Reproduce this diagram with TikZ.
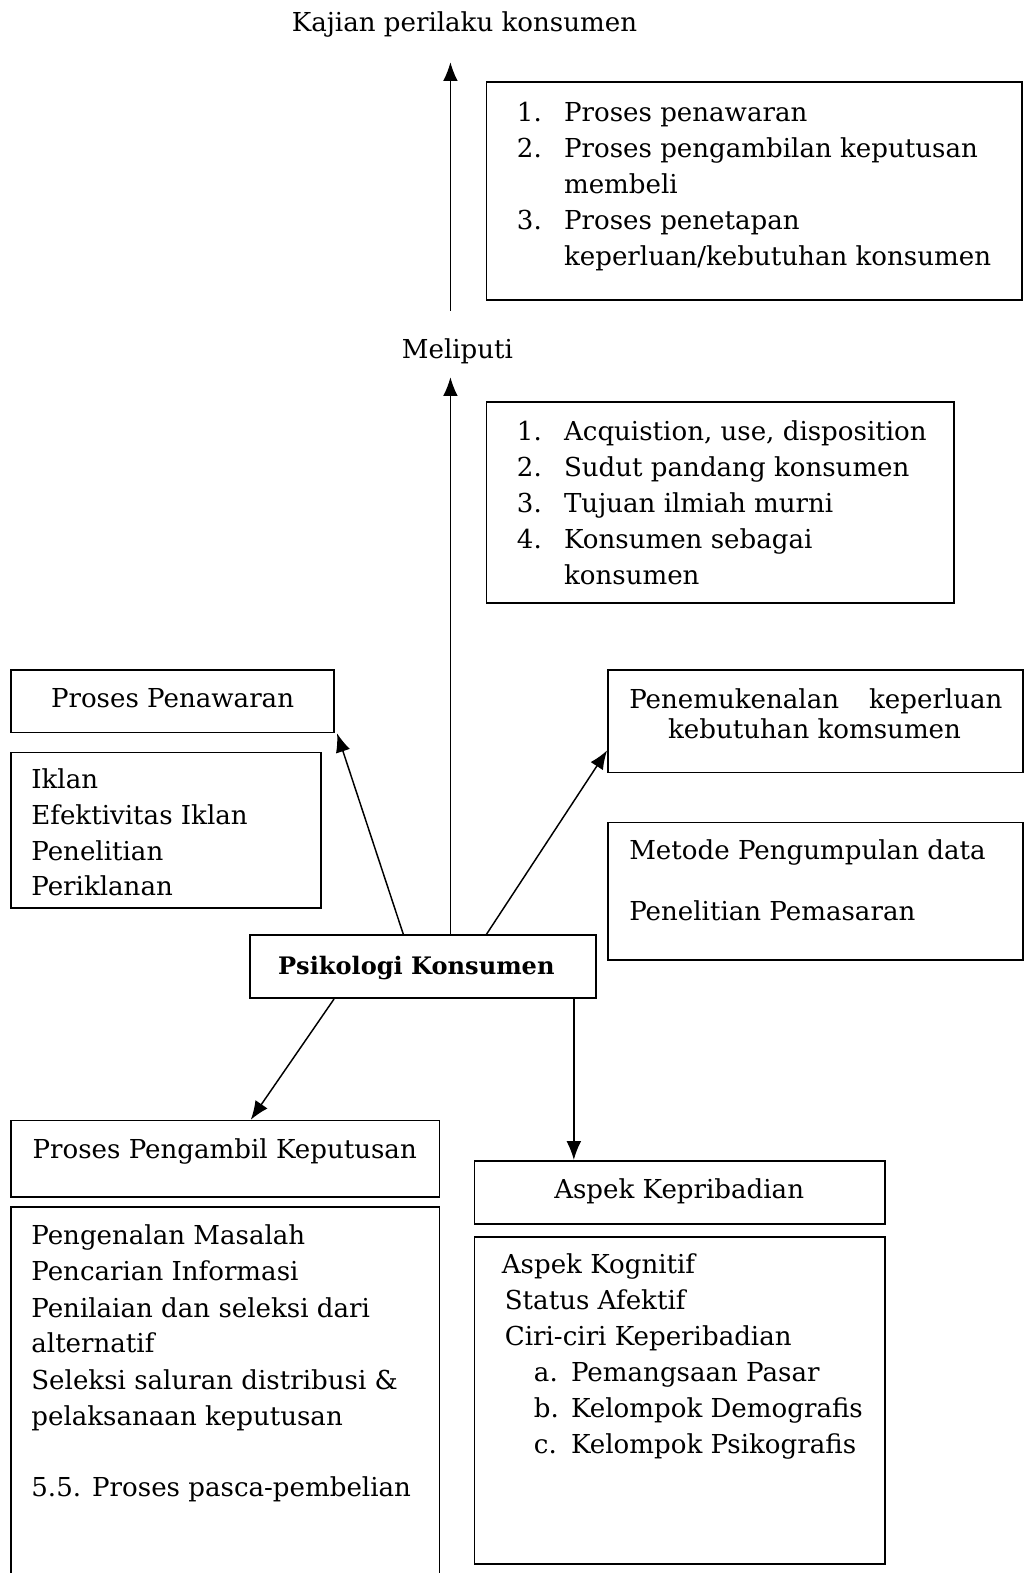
\documentclass[tikz,border=0pt]{standalone}
\usepackage{fontspec}
\setmainfont{DejaVu Serif}
\usetikzlibrary{fit,arrows.meta,calc}
\begin{document}
\begin{tikzpicture}[x=0.75pt,y=-0.75pt,
  box/.style={draw,line width=1.2pt,inner sep=0pt,rectangle},
  txt/.style={inner sep=0pt,yshift=-2.25pt,font=\fontsize{19.5}{27}\selectfont},
  lt/.style={txt,anchor=base west},
  ct/.style={txt,anchor=base},
  arr/.style={line width=1.1pt,-{Latex[length=14pt,width=11pt]}}]
\useasboundingbox (0,0) rectangle (1021,1568);
% title
\node[ct] (title) at (463,28) {Kajian perilaku konsumen};
\coordinate (c1) at (449,310);
\coordinate (c2) at (449,62);
\draw[arr] (c1) -- (c2);
% box A
\node[box,fit={(485,82) (1019,299)}] (boxA) {};
\node[lt] (a1n) at (515,118) {1.};
\node[lt] (a1) at (562,118) {Proses penawaran};
\node[lt] (a2n) at (515,154) {2.};
\node[lt] (a2) at (562,154) {Proses pengambilan keputusan};
\node[lt] (a2b) at (562,190) {membeli};
\node[lt] (a3n) at (515,226) {3.};
\node[lt] (a3) at (562,226) {Proses penetapan};
\node[lt] (a3b) at (562,262) {keperluan/kebutuhan konsumen};
% Meliputi
\node[ct] (meli) at (456,354) {Meliputi};
% box B
\node[box,fit={(485,401) (951,601)}] (boxB) {};
\node[lt] (b1n) at (515,436) {1.};
\node[lt] (b1) at (562,436) {Acquistion, use, disposition};
\node[lt] (b2n) at (515,472) {2.};
\node[lt] (b2) at (562,472) {Sudut pandang konsumen};
\node[lt] (b3n) at (515,508) {3.};
\node[lt] (b3) at (562,508) {Tujuan ilmiah murni};
\node[lt] (b4n) at (515,544) {4.};
\node[lt] (b4) at (562,544) {Konsumen sebagai};
\node[lt] (b4b) at (562,580) {konsumen};
% Proses Penawaran
\node[box,fit={(11,668) (333,730)}] (pp) {};
\node[ct] (ppt) at (172,702) {Proses Penawaran};
\node[box,fit={(11,750) (320,905)}] (ik) {};
\node[lt] (ik1) at (31,783) {Iklan};
\node[lt] (ik2) at (31,819) {Efektivitas Iklan};
\node[lt] (ik3) at (31,855) {Penelitian};
\node[lt] (ik4) at (31,890) {Periklanan};
% Penemukenalan
\node[box,fit={(606,668) (1019.5,770)}] (pen) {};
\node[lt] (pen1) at (627,703) {\makebox[279pt][s]{Penemukenalan\hfill keperluan}};
\node[ct] (pen2) at (812,733) {kebutuhan komsumen};
\node[box,fit={(606,820) (1019.5,957)}] (met) {};
\node[lt] (met1) at (627,854) {Metode Pengumpulan data};
\node[lt] (met2) at (627,915) {Penelitian Pemasaran};
% Psikologi
\node[box,fit={(249,932) (594,995)}] (psi) {};
\node[ct,font=\fontsize{18}{27}\selectfont\bfseries] (psit) at (415,968) {Psikologi Konsumen};
% bottom left
\node[box,fit={(11,1117) (438,1193)}] (ppk) {};
\node[ct] (ppkt) at (224,1152) {Proses Pengambil Keputusan};
\draw[line width=1.2pt] (11,1575) -- (11,1203) -- (438,1203) -- (438,1575);
\node[inner sep=0pt,fit={(11,1203) (438,1568)}] (ppl) {};
\node[lt] (l1) at (31,1238) {Pengenalan Masalah};
\node[lt] (l2) at (31,1273) {Pencarian Informasi};
\node[lt] (l3) at (31,1310) {Penilaian dan seleksi dari};
\node[lt] (l4) at (31,1345) {alternatif};
\node[lt] (l5) at (31,1382) {Seleksi saluran distribusi \&};
\node[lt] (l6) at (31,1418) {pelaksanaan keputusan};
\node[lt] (l7) at (31,1489) {5.5. Proses pasca-pembelian};
% bottom right
\node[box,fit={(473,1157) (882,1220)}] (ak) {};
\node[ct] (akt) at (677,1192) {Aspek Kepribadian};
\node[box,fit={(473,1233) (882,1559)}] (akl) {};
\node[lt] (r1) at (500,1266) {Aspek Kognitif};
\node[lt] (r2) at (503,1302) {Status Afektif};
\node[lt] (r3) at (503,1338) {Ciri-ciri Keperibadian};
\node[lt] (r4n) at (532,1374) {a.};
\node[lt] (r4) at (569,1374) {Pemangsaan Pasar};
\node[lt] (r5n) at (532,1410) {b.};
\node[lt] (r5) at (569,1410) {Kelompok Demografis};
\node[lt] (r6n) at (532,1446) {c.};
\node[lt] (r6) at (569,1446) {Kelompok Psikografis};
% arrows
\draw[arr] (449,0 |- psi.north) -- (449,376);
\draw[arr] (402,0 |- psi.north) -- (336,731);
\draw[arr] (485,0 |- psi.north) -- (pen.west |- 0,748);
\draw[arr] (333,0 |- psi.south) -- (250,0 |- ppk.north);
\draw[arr] (572,0 |- psi.south) -- (572,0 |- ak.north);
\end{tikzpicture}
\end{document}
